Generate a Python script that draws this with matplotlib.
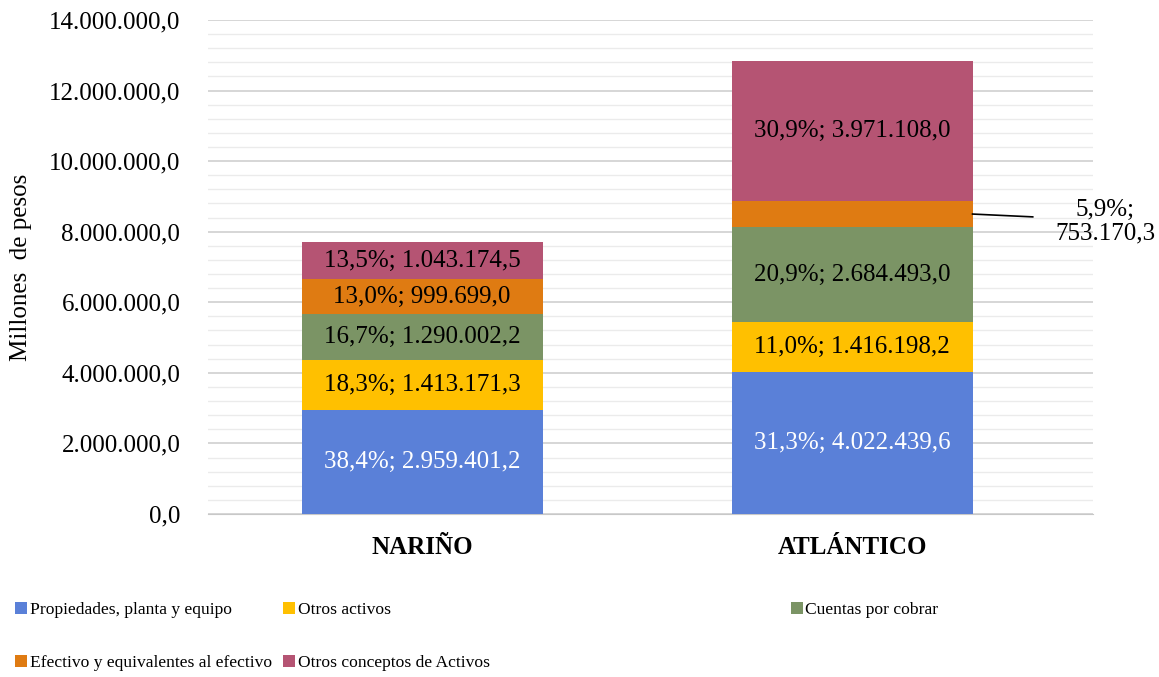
import matplotlib
matplotlib.use('Agg')
from matplotlib import pyplot as plt, patches
import numpy as np

plt.rcParams['font.family'] = ['Liberation Serif', 'DejaVu Serif']

regions = ['NARIÑO', 'ATLÁNTICO']
series = [
    'Propiedades, planta y equipo',
    'Otros activos',
    'Cuentas por cobrar',
    'Efectivo y equivalentes al efectivo',
    'Otros conceptos de Activos',
]
narino = [2959401.2, 1413171.3, 1290002.2, 999699.0, 1043174.5]
atlantico = [4022439.6, 1416198.2, 2684493.0, 753170.3, 3971108.0]
colors = ['#5A80D8', '#FFC000', '#7B9465', '#DF7B12', '#B55473']
text_colors = ['white', 'black', 'black', 'black', 'black']

FS = 18


def fmt(v, dec=1):
    '''Spanish style number: 1.234.567,8'''
    s = f'{v:,.{dec}f}'
    return s.replace(',', '_').replace('.', ',').replace('_', '.')


fig = plt.figure(figsize=(11.59, 6.77), dpi=100)
ax = fig.add_axes([0.1795, 0.2408, 0.7635, 0.7297])

data = np.array([narino, atlantico])
totals = data.sum(axis=1)
x = np.arange(len(regions))
width = 0.56
bottom = np.zeros(len(regions))
for i, name in enumerate(series):
    vals = data[:, i]
    ax.bar(x, vals, width, bottom=bottom, color=colors[i], label=name, zorder=3)
    for j in range(len(regions)):
        pct = vals[j] / totals[j] * 100
        label = f'{fmt(pct)}%; {fmt(vals[j])}'
        yc = bottom[j] + vals[j] / 2
        if j == 1 and i == 3:
            # small segment: label outside with leader line
            xe = x[j] + width / 2
            ax.plot([xe, xe + 0.14], [yc, yc - 80000], color='black', lw=1.2,
                    zorder=4, clip_on=False)
            ax.text(xe + 0.308, yc - 220000, f'{fmt(pct)}%;\n{fmt(vals[j])}', ha='center',
                    va='center', fontsize=FS, linespacing=1.05, clip_on=False)
        else:
            ax.text(x[j], yc, label, ha='center', va='center', fontsize=FS,
                    color=text_colors[i], zorder=5)
    bottom += vals

ax.set_xlim(-0.498, 1.56)
ax.set_ylim(0, 14000000)
ax.set_yticks(np.arange(0, 14000001, 2000000))
ax.set_yticklabels([fmt(v) for v in np.arange(0, 14000001, 2000000)], fontsize=FS)
ax.set_yticks(np.arange(0, 14000001, 400000), minor=True)
ax.grid(axis='y', which='major', color='#D0D0D0', lw=1.2, zorder=0)
ax.grid(axis='y', which='minor', color='#EBEBEB', lw=1.0, zorder=0)
ax.tick_params(axis='y', which='both', length=0, pad=20)
ax.tick_params(axis='x', length=0, pad=16)
ax.set_xticks(x)
ax.set_xticklabels(regions, fontsize=FS, fontweight='bold')
for s in ['top', 'right', 'left']:
    ax.spines[s].set_visible(False)
ax.spines['bottom'].set_color('#C8C8C8')
ax.set_ylabel('Millones  de pesos', fontsize=FS)
ax.yaxis.set_label_coords(-0.199, 0.5)

# legend laid out like the original (three irregular columns)
handles = [patches.Patch(facecolor=c) for c in colors]
groups = [([0, 3], 0.001), ([1, 4], 0.232), ([2], 0.670)]
for idx, xpos in groups:
    leg = fig.legend([handles[k] for k in idx], [series[k] for k in idx],
                     loc='upper left', bbox_to_anchor=(xpos, 0.132),
                     frameon=False, fontsize=12.6, handlelength=0.7,
                     handleheight=0.7, handletextpad=0.15, labelspacing=2.1,
                     borderpad=0.3)

fig.savefig('out.png', dpi=100)
